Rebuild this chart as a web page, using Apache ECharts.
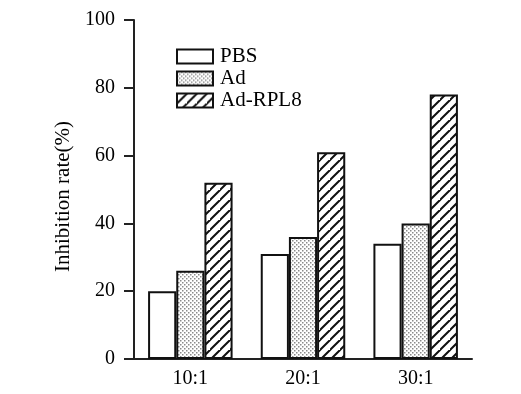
<!DOCTYPE html>
<html>
<head>
<meta charset="utf-8">
<script src="https://cdn.jsdelivr.net/npm/echarts@6/dist/echarts.min.js"></script>
<style>
html,body{margin:0;padding:0;background:#fff;}
#chart{width:521px;height:394px;}
</style>
</head>
<body>
<div id="chart"></div>
<script>
var categories = ['10:1', '20:1', '30:1'];
var seriesNames = ['PBS', 'Ad', 'Ad-RPL8'];
var pbsValues = [20, 31, 34];
var adValues = [26, 36, 40];
var rplValues = [52, 61, 78];
var yTicks = [0, 20, 40, 60, 80, 100];

function dotPattern() {
  var c = document.createElement('canvas');
  c.width = 4; c.height = 4;
  var g = c.getContext('2d');
  g.fillStyle = '#ffffff';
  g.fillRect(0, 0, 4, 4);
  g.fillStyle = '#8a8a8a';
  g.fillRect(0, 0, 1.5, 1.5);
  g.fillRect(2, 2, 1.5, 1.5);
  return c;
}
function hatchPattern() {
  var s = 10;
  var c = document.createElement('canvas');
  c.width = s; c.height = s;
  var g = c.getContext('2d');
  g.fillStyle = '#ffffff';
  g.fillRect(0, 0, s, s);
  g.strokeStyle = '#111111';
  g.lineWidth = 2;
  g.beginPath();
  g.moveTo(-2, s + 2); g.lineTo(s + 2, -2);
  g.moveTo(-2 - s, s + 2); g.lineTo(2, -2);
  g.moveTo(s - 2, 2 * s + 2); g.lineTo(2 * s + 2, s - 2);
  g.stroke();
  return c;
}

var fills = ['#ffffff', {image: dotPattern(), repeat: 'repeat'}, {image: hatchPattern(), repeat: 'repeat'}];
var valueSets = [pbsValues, adValues, rplValues];
var font = '"Liberation Serif", "Times New Roman", serif';

var chart = echarts.init(document.getElementById('chart'));
chart.setOption({
  animation: false,
  backgroundColor: '#ffffff',
  textStyle: {fontFamily: font},
  grid: {left: 134, top: 20, right: 49, bottom: 35, containLabel: false},
  legend: {
    left: 171, top: 41, orient: 'vertical',
    itemWidth: 36, itemHeight: 14, itemGap: 1, icon: 'rect',
    textStyle: {fontFamily: font, fontSize: 21, color: '#000', padding: [0, 0, 0, 2]},
    data: seriesNames
  },
  xAxis: {
    type: 'category', data: categories,
    axisLine: {lineStyle: {color: '#222', width: 2}},
    axisTick: {show: false},
    axisLabel: {fontFamily: font, fontSize: 20, color: '#000', margin: 10}
  },
  yAxis: {
    type: 'value', min: 0, max: 100, interval: 20,
    name: 'Inhibition rate(%)', nameLocation: 'middle', nameGap: 55,
    nameTextStyle: {fontFamily: font, fontSize: 21, color: '#000', padding: [0, 14, 0, 0]},
    axisLine: {show: true, lineStyle: {color: '#222', width: 2}},
    axisTick: {show: true, inside: false, length: 10, lineStyle: {color: '#222', width: 2}},
    axisLabel: {fontFamily: font, fontSize: 20, color: '#000', margin: 19,
      formatter: function (v) { return yTicks.indexOf(v) >= 0 ? String(v) : ''; }},
    splitLine: {show: false}
  },
  series: seriesNames.map(function (n, i) {
    return {
      name: n, type: 'bar', data: valueSets[i],
      barGap: '0%', barCategoryGap: '25%',
      itemStyle: {color: fills[i], borderColor: '#111', borderWidth: 2}
    };
  })
});
</script>
</body>
</html>
